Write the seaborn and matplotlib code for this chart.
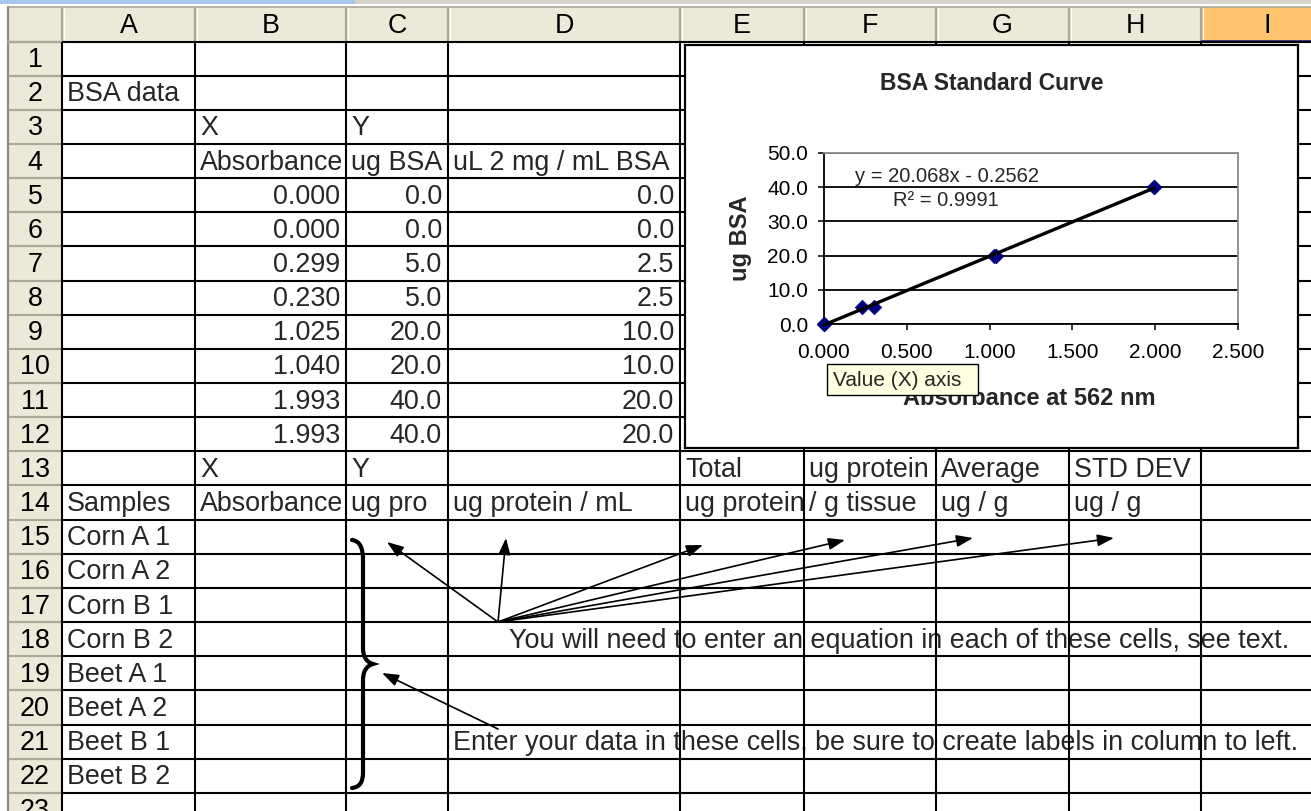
import numpy as np
import matplotlib
matplotlib.use("Agg")
import matplotlib.pyplot as plt
import matplotlib.ticker as mticker
from matplotlib.patches import Rectangle, FancyArrowPatch, PathPatch, ArrowStyle
from matplotlib.path import Path
import seaborn as sns

# ---- BSA standard curve data ----
absorbance = [0.000, 0.000, 0.299, 0.230, 1.025, 1.040, 1.993, 1.993]
ug_bsa = [0.0, 0.0, 5.0, 5.0, 20.0, 20.0, 40.0, 40.0]
ul_stock = [0.0, 0.0, 2.5, 2.5, 10.0, 10.0, 20.0, 20.0]

# ---- sample sheet labels ----
samples = ["Corn A 1", "Corn A 2", "Corn B 1", "Corn B 2",
           "Beet A 1", "Beet A 2", "Beet B 1", "Beet B 2"]
col_letters = ["A", "B", "C", "D", "E", "F", "G", "H", "I"]
row3_labels = {"B": "X", "C": "Y"}
row4_labels = {"B": "Absorbance", "C": "ug BSA", "D": "uL 2 mg / mL BSA"}
row13_labels = {"B": "X", "C": "Y", "E": "Total", "F": "ug protein",
                "G": "Average", "H": "STD DEV"}
row14_labels = {"A": "Samples", "B": "Absorbance", "C": "ug pro",
                "D": "ug protein / mL", "E": "ug protein", "F": "/ g tissue",
                "G": "ug / g", "H": "ug / g"}
note_equation = "You will need to enter an equation in each of these cells, see text."
note_data = "Enter your data in these cells, be sure to create labels in column to left."

chart_title = "BSA Standard Curve"
x_label = "Absorbance at 562 nm"
y_label = "ug BSA"
x_ticks = [0.0, 0.5, 1.0, 1.5, 2.0, 2.5]
y_ticks = [0, 10, 20, 30, 40, 50]
tooltip_text = "Value (X) axis"

sns.set_style("white")
plt.rcParams["font.family"] = ["Liberation Sans", "DejaVu Sans"]

W, H = 1311, 811
fig = plt.figure(figsize=(W / 100, H / 100), dpi=100)
fig.patch.set_facecolor("white")

# pixel-coordinate canvas for the worksheet
ax_px = fig.add_axes([0, 0, 1, 1], zorder=0)
ax_px.set_xlim(0, W)
ax_px.set_ylim(H, 0)
ax_px.axis("off")

LEFT, TOP = 8, 7
HDR_BOTTOM = 41.5
ROW_H = 34.15
col_edges = [62, 195, 346, 448, 680, 804, 936, 1069, 1201, 1345]
n_rows = 23


def row_top(r):
    return HDR_BOTTOM + (r - 1) * ROW_H


def col_span(letter):
    i = col_letters.index(letter)
    return col_edges[i], col_edges[i + 1]


HEADER_BG = "#ECE9D8"
HEADER_LINE = "#ACA899"
CELL_FS = 19.4

# window strip above the sheet
ax_px.add_patch(Rectangle((0, 0), 355, 3.5, fc="#A9C6EE", ec="none", zorder=1))
ax_px.add_patch(Rectangle((355, 0), W - 355, 3.5, fc="#D6D3CA", ec="none", zorder=1))

# column and row headers
ax_px.add_patch(Rectangle((LEFT, TOP), W - LEFT, HDR_BOTTOM - TOP, fc=HEADER_BG, ec="none", zorder=1))
ax_px.add_patch(Rectangle((LEFT, HDR_BOTTOM), col_edges[0] - LEFT, H, fc=HEADER_BG, ec="none", zorder=1))
ax_px.add_patch(Rectangle((col_edges[8], TOP), W - col_edges[8], HDR_BOTTOM - TOP,
                          fc="#FFC46E", ec="none", zorder=1))
ax_px.plot([col_edges[8], W], [HDR_BOTTOM - 1, HDR_BOTTOM - 1], color="#2B2B8F", lw=2, zorder=4)

for x in col_edges[:-1]:
    ax_px.plot([x, x], [TOP + 1, HDR_BOTTOM], color=HEADER_LINE, lw=1.6, zorder=2)
    ax_px.plot([x + 1.5, x + 1.5], [TOP + 1, HDR_BOTTOM], color="white", lw=0.8, zorder=2)
for r in range(1, n_rows + 1):
    y = row_top(r)
    ax_px.plot([LEFT, col_edges[0]], [y, y], color=HEADER_LINE, lw=1.6, zorder=2)
ax_px.plot([LEFT, W], [TOP, TOP], color=HEADER_LINE, lw=1.2, zorder=2)
ax_px.plot([LEFT, LEFT], [TOP, H], color="#8A8A8A", lw=1.6, zorder=2)
ax_px.plot([LEFT, col_edges[0]], [HDR_BOTTOM, HDR_BOTTOM], color=HEADER_LINE, lw=1.6, zorder=2)

for i, letter in enumerate(col_letters):
    xc = (col_edges[i] + col_edges[i + 1]) / 2
    if letter == "I":
        xc = col_edges[8] + 66
    ax_px.text(xc, 33, letter, ha="center", va="baseline", fontsize=CELL_FS,
               color="black", zorder=3)
for r in range(1, n_rows + 1):
    ax_px.text((LEFT + col_edges[0]) / 2, row_top(r + 1) - 8.5, str(r), ha="center",
               va="baseline", fontsize=CELL_FS, color="black", zorder=3)

# cell borders (drawn above the cell text)
GRID_KW = dict(color="black", lw=1.5, zorder=6, solid_capstyle="butt")
for x in col_edges[:-1]:
    ax_px.plot([x, x], [HDR_BOTTOM, H], **GRID_KW)
for r in range(1, n_rows + 1):
    y = row_top(r)
    ax_px.plot([col_edges[0], W], [y, y], **GRID_KW)


def cell_text(letter, row, s, align="left"):
    x0, x1 = col_span(letter)
    y = row_top(row + 1) - 8.5
    if align == "left":
        ax_px.text(x0 + 5, y, s, ha="left", va="baseline", fontsize=CELL_FS, zorder=5)
    else:
        ax_px.text(x1 - 6, y, s, ha="right", va="baseline", fontsize=CELL_FS, zorder=5)


cell_text("A", 2, "BSA data")
for k, v in row3_labels.items():
    cell_text(k, 3, v)
for k, v in row4_labels.items():
    cell_text(k, 4, v)
for i in range(len(absorbance)):
    cell_text("B", 5 + i, f"{absorbance[i]:.3f}", "right")
    cell_text("C", 5 + i, f"{ug_bsa[i]:.1f}", "right")
    cell_text("D", 5 + i, f"{ul_stock[i]:.1f}", "right")
for k, v in row13_labels.items():
    cell_text(k, 13, v)
for k, v in row14_labels.items():
    cell_text(k, 14, v)
for i, s in enumerate(samples):
    cell_text("A", 15 + i, s)

ax_px.text(509, row_top(19) - 8.5, note_equation, ha="left", va="baseline",
           fontsize=CELL_FS, zorder=5)
ax_px.text(453, row_top(22) - 8.5, note_data, ha="left", va="baseline",
           fontsize=CELL_FS, zorder=5)

# annotation arrows
head = ArrowStyle("-|>", head_length=10, head_width=3.6)
origin = (498, 622)
targets = [(387, 542), (506, 538), (703, 545), (845, 540), (973, 538), (1114, 538)]
for t in targets:
    ax_px.add_patch(FancyArrowPatch(origin, t, arrowstyle=head, mutation_scale=1,
                                    color="black", lw=1.2, shrinkA=0, shrinkB=0, zorder=7))
ax_px.add_patch(FancyArrowPatch((498, 729), (382, 673), arrowstyle=head, mutation_scale=1,
                                color="black", lw=1.2, shrinkA=0, shrinkB=0, zorder=7))

# curly brace spanning the sample rows
verts = [(352, 540), (360, 541), (363, 548), (363, 560),
         (363, 648),
         (363, 656), (366, 662), (373, 664),
         (366, 666), (363, 672), (363, 680),
         (363, 772),
         (363, 782), (360, 787), (352, 788)]
codes = [Path.MOVETO, Path.CURVE4, Path.CURVE4, Path.CURVE4,
         Path.LINETO,
         Path.CURVE4, Path.CURVE4, Path.CURVE4,
         Path.CURVE4, Path.CURVE4, Path.CURVE4,
         Path.LINETO,
         Path.CURVE4, Path.CURVE4, Path.CURVE4]
ax_px.add_patch(PathPatch(Path(verts, codes), fc="none", ec="black", lw=3.0,
                          capstyle="round", zorder=7))

# ---- embedded chart ----
CH_L, CH_R, CH_T, CH_B = 685, 1298, 45, 448
ax_frame = fig.add_axes([CH_L / W, 1 - CH_B / H, (CH_R - CH_L) / W, (CH_B - CH_T) / H], zorder=5)
ax_frame.set_facecolor("white")
ax_frame.set_xticks([])
ax_frame.set_yticks([])
for sp in ax_frame.spines.values():
    sp.set_color("black")
    sp.set_linewidth(1.6)
    sp.set_visible(True)
ax_frame.set_title(chart_title, fontsize=16.5, fontweight="bold", y=(CH_B - 90) / (CH_B - CH_T),
                   pad=0, va="baseline")

PL, PR, PT, PB = 824, 1238, 153, 324
ax = fig.add_axes([PL / W, 1 - PB / H, (PR - PL) / W, (PB - PT) / H], zorder=6)
ax.set_facecolor("white")
sns.regplot(x=absorbance, y=ug_bsa, ax=ax, ci=None, scatter=False, color="black",
            line_kws=dict(lw=2.4, zorder=5, clip_on=False))
sns.scatterplot(x=absorbance, y=ug_bsa, ax=ax, marker="D", s=55, color="#000080",
                edgecolor="#000080", linewidth=0.5, zorder=4, clip_on=False)
ax.set_xlim(x_ticks[0], x_ticks[-1])
ax.set_ylim(y_ticks[0], y_ticks[-1])
ax.set_xticks(x_ticks)
ax.set_yticks(y_ticks)
ax.xaxis.set_major_formatter(mticker.FormatStrFormatter("%.3f"))
ax.yaxis.set_major_formatter(mticker.FormatStrFormatter("%.1f"))
ax.tick_params(axis="both", direction="out", length=4.5, width=1.1, colors="black",
               labelsize=15, bottom=True, left=True)
ax.tick_params(axis="x", pad=9)
ax.tick_params(axis="y", pad=7)
ax.yaxis.grid(True, color="black", lw=1.3)
ax.xaxis.grid(False)
ax.set_axisbelow(True)
for side in ["left", "bottom"]:
    ax.spines[side].set_color("black")
    ax.spines[side].set_linewidth(1.3)
for side in ["top", "right"]:
    ax.spines[side].set_color("#8C8C8C")
    ax.spines[side].set_linewidth(1.3)

ax.set_xlabel(x_label, fontsize=17, fontweight="bold")
ax.set_ylabel(y_label, fontsize=17, fontweight="bold")
ax.xaxis.set_label_coords(1029, 387, transform=ax_px.transData)
ax.yaxis.set_label_coords(752, 238, transform=ax_px.transData)

# least-squares trendline equation
slope, intercept = np.polyfit(absorbance, ug_bsa, 1)
r2 = np.corrcoef(absorbance, ug_bsa)[0, 1] ** 2
sign = "-" if intercept < 0 else "+"
ax.text(947, 177, f"y = {slope:.3f}x {sign} {abs(intercept):.4f}", transform=ax_px.transData,
        ha="center", va="center", fontsize=14.5, zorder=6, clip_on=False)
ax.text(946, 200, f"R\u00b2 = {r2:.4f}", transform=ax_px.transData,
        ha="center", va="center", fontsize=14.5, zorder=6, clip_on=False)

# hover tooltip over the x axis
ax_top = fig.add_axes([0, 0, 1, 1], zorder=8)
ax_top.set_xlim(0, W)
ax_top.set_ylim(H, 0)
ax_top.axis("off")
ax_top.patch.set_alpha(0)
ax_top.add_patch(Rectangle((827, 364), 151, 31, fc="#FFFFE1", ec="black", lw=1.0, zorder=2))
ax_top.text(833, 380, tooltip_text, ha="left", va="center", fontsize=15, zorder=3)

fig.savefig("out.png", dpi=100, facecolor="white")
